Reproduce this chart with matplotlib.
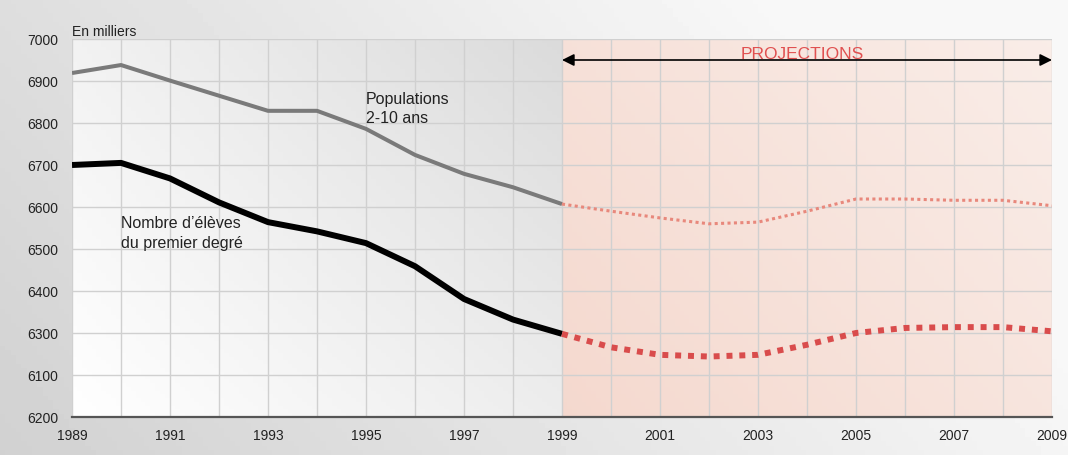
import numpy as np
import matplotlib
matplotlib.use('Agg')
import matplotlib.pyplot as plt

plt.rcParams['font.family'] = ['Liberation Sans Narrow', 'Liberation Sans', 'DejaVu Sans']

# data (en milliers)
years_obs = [1989, 1990, 1991, 1992, 1993, 1994, 1995, 1996, 1997, 1998, 1999]
pop_obs = [6919, 6938, 6901, 6865, 6829, 6829, 6786, 6724, 6679, 6647, 6607]
eleves_obs = [6700, 6705, 6668, 6611, 6564, 6542, 6514, 6459, 6381, 6332, 6298]

years_proj = [1999, 2000, 2001, 2002, 2003, 2004, 2005, 2006, 2007, 2008, 2009]
pop_proj = [6607, 6590, 6574, 6560, 6564, 6590, 6619, 6619, 6616, 6616, 6603]
eleves_proj = [6298, 6266, 6248, 6244, 6248, 6272, 6300, 6312, 6314, 6314, 6304]

ytick_vals = [7000, 6900, 6800, 6700, 6600, 6500, 6400, 6300, 6200, 6100]
ytick_labels = ['7000', '6900', '6800', '6700', '6600', '6500', '6400', '6300', '6100', '6200']
xtick_labels = ['1989', '1991', '1993', '1995', '1997', '1999', '2001', '2003', '2005', '2007', '2009']

fig = plt.figure(figsize=(10.68, 4.56), dpi=100)

# figure background gradient
bg = fig.add_axes([0, 0, 1, 1], zorder=-10)
gx, gy = np.meshgrid(np.linspace(0, 1, 200), np.linspace(0, 1, 100))
g = np.clip(0.82 + 0.14 * gx + 0.05 * gy, 0, 0.97)
bg.imshow(g, cmap='gray', vmin=0, vmax=1, aspect='auto', extent=[0, 1, 0, 1], origin='lower')
bg.axis('off')

ax = fig.add_axes([72 / 1068, 1 - 418 / 456, 980 / 1068, 378 / 456])
ax.set_xlim(1989, 2009)
ax.set_ylim(6100, 7000)

# plot area backgrounds
lx, ly = np.meshgrid(np.linspace(0, 1, 100), np.linspace(0, 1, 100))
left = np.clip(1.0 - 0.07 * lx - 0.05 * ly - 0.02 * lx * ly, 0, 1)
left_rgb = np.dstack([left, left, left])
ax.imshow(left_rgb, extent=[1989, 1999, 6100, 7000], aspect='auto', origin='lower', zorder=0)
c0 = np.array([0.96, 0.85, 0.81])
c1 = np.array([0.98, 0.93, 0.91])
t = (0.6 * lx + 0.4 * ly)[..., None]
right_rgb = c0 * (1 - t) + c1 * t
ax.imshow(right_rgb, extent=[1999, 2009, 6100, 7000], aspect='auto', origin='lower', zorder=0)

ax.set_yticks(ytick_vals)
ax.set_xticks(range(1989, 2010, 2))
ax.set_xticks(range(1990, 2010, 2), minor=True)
ax.grid(True, which='major', color='#d0d0d0', linewidth=1.0, zorder=1)
ax.grid(True, which='minor', axis='x', color='#d0d0d0', linewidth=1.0)
ax.set_axisbelow(False)
ax.set_xticklabels(xtick_labels)
ax.set_yticklabels(ytick_labels)
ax.tick_params(axis='both', which='both', length=0, labelsize=10, colors='#222222')
ax.tick_params(axis='x', pad=8)
ax.tick_params(axis='y', pad=10)
for s in ['top', 'right', 'left']:
    ax.spines[s].set_visible(False)
ax.spines['bottom'].set_color('#555555')
ax.spines['bottom'].set_linewidth(1.6)
ax.spines['bottom'].set_zorder(5)

# observed
ax.plot(years_obs, pop_obs, color='#7a7a7a', linewidth=2.9, zorder=4, solid_capstyle='butt')
ax.plot(years_obs, eleves_obs, color='black', linewidth=4.3, zorder=4, solid_capstyle='butt')
# projections
ax.plot(years_proj, pop_proj, color='#e8887c', linewidth=2.2, linestyle=(0, (1, 1.1)), zorder=4)
ax.plot(years_proj, eleves_proj, color='#d94c4c', linewidth=4.3, linestyle=(0, (1, 1.15)), zorder=4)

# projections arrow
ax.annotate('', xy=(2009, 6950), xytext=(1999, 6950),
            arrowprops=dict(arrowstyle='<|-|>', color='black', lw=1.2, mutation_scale=18,
                            shrinkA=0, shrinkB=0), zorder=6)
ax.text(2003.9, 6966, 'PROJECTIONS', color='#e05050', fontsize=12.5, ha='center', va='center', zorder=5)

ax.text(1995, 6876, 'Populations\n2-10 ans', fontsize=11.5, color='#222222', ha='left', va='top',
        linespacing=1.35, zorder=5)
ax.text(1990, 6580, 'Nombre d\u2019\u00e9l\u00e8ves\ndu premier degr\u00e9', fontsize=11.5, color='#222222',
        ha='left', va='top', linespacing=1.35, zorder=5)

fig.text(72 / 1068, 1 - 32 / 456, 'En milliers', fontsize=10, color='#222222', ha='left', va='center')

fig.savefig('out.png', dpi=100)
